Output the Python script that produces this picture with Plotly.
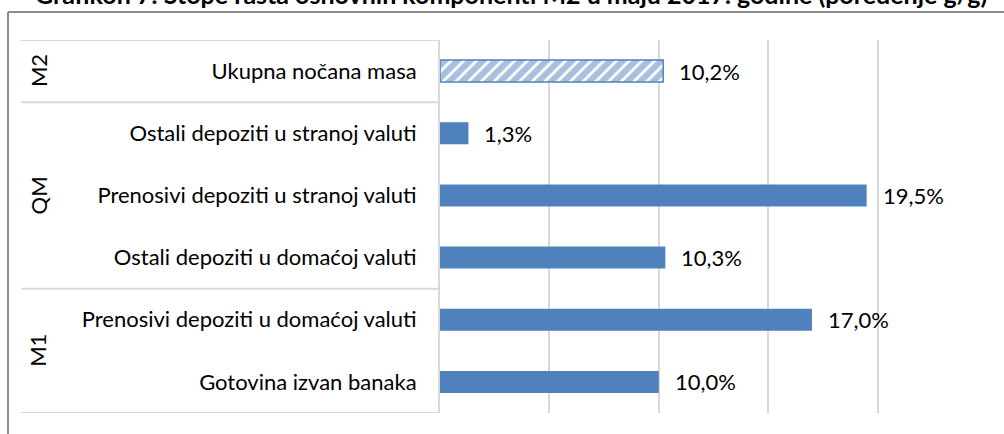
import plotly.graph_objects as go

categories = [
    "Gotovina izvan banaka",
    "Prenosivi depoziti u domaćoj valuti",
    "Ostali depoziti u domaćoj valuti",
    "Prenosivi depoziti u stranoj valuti",
    "Ostali depoziti u stranoj valuti",
    "Ukupna nočana masa",
]
values = [10.0, 17.0, 10.3, 19.5, 1.3, 10.2]
value_labels = ["10,0%", "17,0%", "10,3%", "19,5%", "1,3%", "10,2%"]
groups = ["M1", "QM", "M2"]
group_spans = [(0, 1), (2, 4), (5, 5)]
title = "Grafikon 7: Stope rasta osnovnih komponenti M2 u maju 2017. godine (poređenje g/g)"

BLUE = "#4f81bd"
FONT = "Lato"
FS = 22
W, H = 1004, 434
ML, MR, MT, MB = 440, 17, 40, 21
PW, PH = W - ML - MR, H - MT - MB

def px_x(p):
    return (p - ML) / PW

def px_y(p):
    return 1 - (p - MT) / PH

fig = go.Figure()
solid_idx = list(range(5))
fig.add_trace(go.Bar(
    y=[categories[i] for i in solid_idx], x=[values[i] for i in solid_idx],
    orientation="h", width=0.355, marker=dict(color=BLUE, line=dict(width=0)),
    hoverinfo="skip",
))
fig.add_trace(go.Bar(
    y=[categories[5]], x=[values[5]], orientation="h", width=0.355,
    marker=dict(color="white", line=dict(color=BLUE, width=1.5),
                pattern=dict(shape="/", fgcolor=BLUE, bgcolor="white", size=9, solidity=0.7)),
    hoverinfo="skip",
))

annotations = []
for c, v, t in zip(categories, values, value_labels):
    annotations.append(dict(x=v, y=c, xref="x", yref="y", text=t, showarrow=False,
                            xanchor="left", xshift=14, font=dict(family=FONT, size=FS, color="#000")))

shapes = []
bounds = [-0.5, 1.5, 4.5, 5.5]
for b in bounds:
    shapes.append(dict(type="line", xref="paper", yref="y", x0=px_x(21), x1=0, y0=b, y1=b,
                       line=dict(color="#d9d9d9", width=2)))
for g, (a, b) in zip(groups, group_spans):
    annotations.append(dict(x=px_x(38), y=(a + b) / 2, xref="paper", yref="y", text=g,
                            showarrow=False, textangle=-90, xanchor="center", yanchor="middle",
                            font=dict(family=FONT, size=FS, color="#000")))
shapes.append(dict(type="line", xref="paper", yref="paper", x0=px_x(8), x1=px_x(8), y0=px_y(12), y1=px_y(440),
                   line=dict(color="#8c8c8c", width=2)))
shapes.append(dict(type="line", xref="paper", yref="paper", x0=px_x(8), x1=px_x(1010), y0=px_y(12), y1=px_y(12),
                   line=dict(color="#8c8c8c", width=2)))
annotations.append(dict(x=px_x(511), y=px_y(11), xref="paper", yref="paper", text="<b>" + title + "</b>",
                        showarrow=False, xanchor="center", yanchor="bottom",
                        font=dict(family=FONT, size=25, color="#000")))

fig.update_layout(
    width=W, height=H, margin=dict(l=ML, r=MR, t=MT, b=MB),
    plot_bgcolor="white", paper_bgcolor="white", showlegend=False, barmode="overlay",
    shapes=shapes, annotations=annotations,
    xaxis=dict(range=[0, 25], dtick=5, showgrid=True, gridcolor="#d9d9d9", gridwidth=2,
               showticklabels=False, zeroline=False, showline=False, fixedrange=True),
    yaxis=dict(categoryorder="array", categoryarray=categories, range=[-0.5, 5.5],
               showline=True, linecolor="#d9d9d9", linewidth=2, ticks="", showgrid=False,
               ticklabelstandoff=17, tickfont=dict(family=FONT, size=FS, color="#000")),
)
fig.write_html("out.html", config={"displayModeBar": False},
               post_script="document.body.style.margin='0';document.body.style.overflow='hidden';")
